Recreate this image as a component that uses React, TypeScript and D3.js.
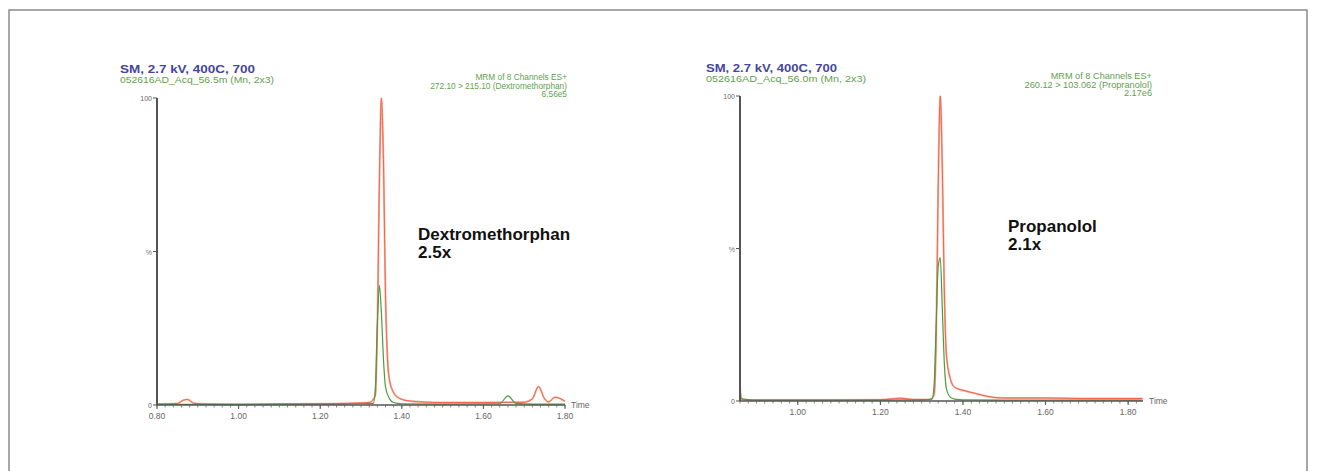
import React from "react";
import * as d3 from "d3";

// ---------- DATA ----------
const xTickLabelsL = ["0.80", "1.00", "1.20", "1.40", "1.60", "1.80"];
const xTickLabelsR = ["1.00", "1.20", "1.40", "1.60", "1.80"];

// Left chart: Dextromethorphan (red) and reference channel (green)
const leftRedT = [0.80, 0.85, 0.865, 0.875, 0.89, 0.92, 1.00, 1.10, 1.20, 1.28, 1.32, 1.335, 1.34, 1.345, 1.35, 1.355, 1.36, 1.365, 1.37, 1.38, 1.39, 1.41, 1.45, 1.50, 1.60, 1.70, 1.72, 1.735, 1.75, 1.76, 1.775, 1.79, 1.80];
const leftRedV = [0.3, 0.5, 1.6, 1.8, 0.6, 0.3, 0.2, 0.3, 0.4, 0.6, 0.8, 3, 25, 72, 100, 80, 36, 15, 8, 4, 2.5, 1.5, 1, 0.8, 0.8, 0.9, 2, 6, 2, 1, 2.5, 2, 1.2];
const leftGreenT = [0.80, 0.90, 1.00, 1.10, 1.20, 1.30, 1.33, 1.335, 1.34, 1.345, 1.35, 1.355, 1.36, 1.37, 1.38, 1.40, 1.50, 1.64, 1.66, 1.68, 1.72, 1.80];
const leftGreenV = [0.2, 0.2, 0.2, 0.3, 0.3, 0.4, 0.5, 5, 26, 39, 30, 15, 6, 2, 0.8, 0.4, 0.3, 0.4, 3, 0.5, 0.3, 0.3];

// Right chart: Propranolol (red) and reference channel (green)
const rightRedT = [0.86, 0.863, 0.87, 0.90, 1.00, 1.10, 1.20, 1.25, 1.28, 1.32, 1.33, 1.335, 1.34, 1.345, 1.35, 1.355, 1.36, 1.37, 1.38, 1.40, 1.43, 1.46, 1.50, 1.60, 1.70, 1.835];
const rightRedV = [5, 1, 0.4, 0.3, 0.3, 0.3, 0.4, 0.9, 0.5, 0.5, 2, 20, 70, 100, 76, 35, 15, 7, 4.5, 3.5, 2.5, 1.5, 1, 1, 0.8, 0.8];
const rightGreenT = [0.86, 0.90, 1.00, 1.10, 1.20, 1.30, 1.325, 1.33, 1.335, 1.34, 1.345, 1.35, 1.355, 1.36, 1.37, 1.38, 1.40, 1.50, 1.60, 1.70, 1.835];
const rightGreenV = [0.8, 0.3, 0.3, 0.3, 0.3, 0.4, 0.6, 5, 25, 44, 47, 30, 12, 4, 1.2, 0.6, 0.4, 0.3, 0.3, 0.3, 0.3];

const leftHeader = ["MRM of 8 Channels ES+", "272.10 > 215.10 (Dextromethorphan)", "6.56e5"];
const rightHeader = ["MRM of 8 Channels ES+", "260.12 > 103.062 (Propranolol)", "2.17e6"];

// ---------- COMPONENT ----------
type PanelProps = {
  x0: number; x1: number; yTop: number; yBot: number;
  domain: [number, number];
  labels: string[];
  redT: number[]; redV: number[]; greenT: number[]; greenV: number[];
  title: string; subtitle: string; header: string[];
  titleX: number; titleY: number; titleW: number; subW: number;
  headerX: number; headerY: number; headerSize: number;
  name: string; factor: string; nameX: number; nameY: number;
};

function Panel(p: PanelProps) {
  const x = d3.scaleLinear().domain(p.domain).range([p.x0, p.x1]);
  const y = d3.scaleLinear().domain([0, 100]).range([p.yBot, p.yTop]);
  const mk = (t: number[], v: number[]) =>
    d3.line<number>().x((_, i) => x(t[i])).y(d => y(d)).curve(d3.curveMonotoneX)(v) || "";
  const minor: number[] = [];
  const start = Math.ceil(p.domain[0] / 0.02 - 1e-6);
  for (let k = start; k * 0.02 <= p.domain[1] + 1e-6; k++) minor.push(k * 0.02);
  const font = "Liberation Sans, Arial, sans-serif";
  return (
    <g fontFamily={font}>
      <text x={p.titleX} y={p.titleY} fontSize={10.5} fontWeight="bold" fill="#45459e"
        textLength={p.titleW} lengthAdjust="spacingAndGlyphs">{p.title}</text>
      <text x={p.titleX} y={p.titleY + 10} fontSize={8.5} fill="#5f9f4f"
        textLength={p.subW} lengthAdjust="spacingAndGlyphs">{p.subtitle}</text>
      {p.header.map((h, i) => (
        <text key={i} x={p.headerX} y={p.headerY + i * 8.5} fontSize={p.headerSize} fill="#5f9f4f" textAnchor="end">{h}</text>
      ))}
      {/* traces */}
      <path d={mk(p.redT, p.redV)} fill="none" stroke="#f9b5a3" strokeWidth={2} />
      <path d={mk(p.redT, p.redV)} fill="none" stroke="#f0654a" strokeWidth={1} />
      <path d={mk(p.greenT, p.greenV)} fill="none" stroke="#4e9a3e" strokeWidth={1.2} />
      {/* axes */}
      <line x1={p.x0} x2={p.x0} y1={p.yTop} y2={p.yBot} stroke="#555" strokeWidth={2} />
      <line x1={p.x0} x2={p.x1} y1={p.yBot} y2={p.yBot} stroke="#555" strokeWidth={1.5} />
      {minor.map((t, i) => (
        <line key={i} x1={x(t)} x2={x(t)} y1={p.yBot} y2={p.yBot + 2.5} stroke="#666" strokeWidth={0.8} />
      ))}
      {p.labels.map((l, i) => (
        <g key={i}>
          <line x1={x(+l)} x2={x(+l)} y1={p.yBot} y2={p.yBot + 4} stroke="#555" strokeWidth={1} />
          <text x={x(+l)} y={p.yBot + 14} fontSize={8.5} fill="#666" textAnchor="middle">{l}</text>
        </g>
      ))}
      <text x={p.x1 + 6} y={p.yBot + 3} fontSize={8.5} fill="#666">Time</text>
      {[0, 50, 100].map(v => (
        <line key={v} x1={p.x0 - 4} x2={p.x0} y1={y(v)} y2={y(v)} stroke="#555" strokeWidth={1} />
      ))}
      <text x={p.x0 - 5} y={y(100) + 3} fontSize={7} fill="#666" textAnchor="end">100</text>
      <text x={p.x0 - 5} y={y(50) + 3} fontSize={7} fill="#777" textAnchor="end">%</text>
      <text x={p.x0 - 5} y={y(0) + 3} fontSize={7} fill="#666" textAnchor="end">0</text>
      <text x={p.nameX} y={p.nameY} fontSize={17} fontWeight="bold" fill="#111">{p.name}</text>
      <text x={p.nameX} y={p.nameY + 18} fontSize={17} fontWeight="bold" fill="#111">{p.factor}</text>
    </g>
  );
}

export default function App() {
  return (
    <svg width={1317} height={471} style={{ position: "absolute", left: 0, top: 0, background: "#fff" }}>
      <path d="M9,471 V10 H1307 V471" fill="none" stroke="#8a8a8a" strokeWidth={1.5} />
      <Panel x0={157} x1={565} yTop={98} yBot={405} domain={[0.80, 1.80]} labels={xTickLabelsL}
        redT={leftRedT} redV={leftRedV} greenT={leftGreenT} greenV={leftGreenV}
        title="SM, 2.7 kV, 400C, 700" subtitle="052616AD_Acq_56.5m (Mn, 2x3)" header={leftHeader}
        titleX={120} titleY={73} titleW={135} subW={154} headerX={567} headerY={80} headerSize={8.3}
        name="Dextromethorphan" factor="2.5x" nameX={418} nameY={240} />
      <Panel x0={740} x1={1143} yTop={96} yBot={401} domain={[0.86, 1.836]} labels={xTickLabelsR}
        redT={rightRedT} redV={rightRedV} greenT={rightGreenT} greenV={rightGreenV}
        title="SM, 2.7 kV, 400C, 700" subtitle="052616AD_Acq_56.0m (Mn, 2x3)" header={rightHeader}
        titleX={706} titleY={72} titleW={131} subW={160} headerX={1152} headerY={79} headerSize={9.2}
        name="Propanolol" factor="2.1x" nameX={1008} nameY={232} />
    </svg>
  );
}
